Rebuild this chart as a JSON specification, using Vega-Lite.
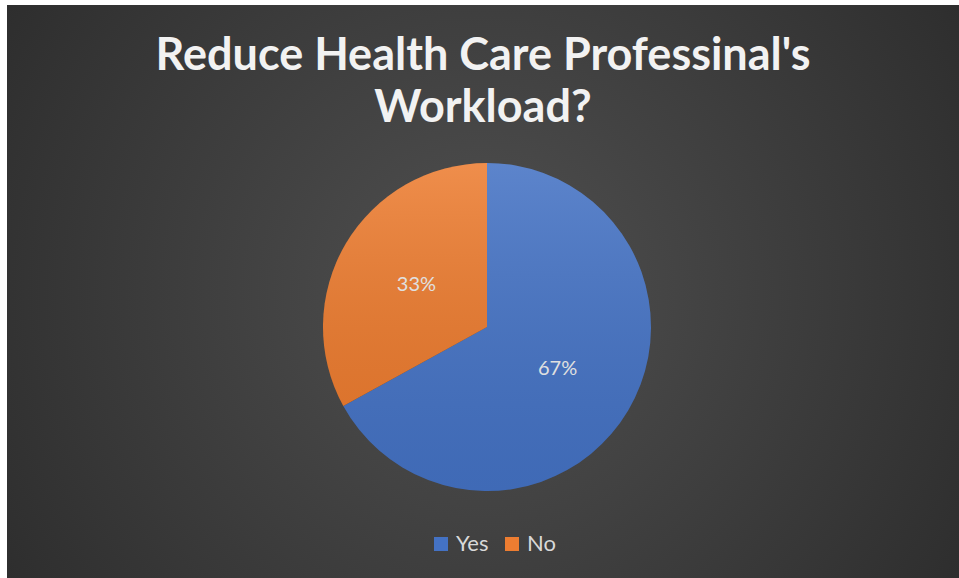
{
  "$schema": "https://vega.github.io/schema/vega-lite/v6.json",
  "autosize": {"type": "none"},
  "width": 952,
  "height": 573,
  "padding": {"left": 7, "top": 5, "right": 0, "bottom": 0},
  "background": "#ffffff",
  "config": {"view": {"stroke": null}},
  "title": {
    "text": ["Reduce Health Care Professinal's", "Workload?"],
    "orient": "top",
    "anchor": "middle",
    "frame": "group",
    "offset": -126,
    "font": "Lato",
    "fontSize": 45,
    "fontWeight": "bold",
    "color": "#f2f2f2",
    "lineHeight": 52
  },
  "layer": [
    {
      "data": {"values": [{}]},
      "mark": {
        "type": "rect",
        "fill": {
          "gradient": "radial",
          "x1": 0.5, "y1": 0.5, "r1": 0,
          "x2": 0.5, "y2": 0.5, "r2": 0.72,
          "stops": [
            {"offset": 0, "color": "#505050"},
            {"offset": 1, "color": "#262626"}
          ]
        }
      },
      "encoding": {
        "x": {"value": 0},
        "x2": {"value": "width"},
        "y": {"value": 0},
        "y2": {"value": "height"}
      }
    },
    {
      "data": {
        "name": "answers",
        "values": [
          {"Answer": "Yes", "Share": 0.67},
          {"Answer": "No", "Share": 0.33}
        ]
      },
      "encoding": {
        "theta": {"field": "Share", "type": "quantitative", "stack": true},
        "order": {"field": "Answer", "sort": "descending"}
      },
      "layer": [
        {
          "mark": {"type": "arc", "outerRadius": 164, "x": 480, "y": 322},
          "encoding": {
            "color": {
              "field": "Answer",
              "type": "nominal",
              "scale": {"domain": ["Yes", "No"], "range": ["#4472c4", "#ed7d31"]},
              "legend": {
                "title": null,
                "orient": "none",
                "direction": "horizontal",
                "legendX": 423,
                "legendY": 528,
                "symbolType": "square",
                "symbolSize": 196,
                "symbolStrokeWidth": 0,
                "labelFont": "Lato",
                "labelFontSize": 22,
                "labelColor": "#d9d9d9",
                "labelOffset": 4,
                "columnPadding": 12
              }
            }
          }
        },
        {
          "mark": {
            "type": "arc",
            "outerRadius": 164,
            "x": 480,
            "y": 322,
            "fill": {
              "gradient": "linear",
              "x1": 0, "y1": 0, "x2": 0, "y2": 1,
              "stops": [
                {"offset": 0, "color": "rgba(255,255,255,0.13)"},
                {"offset": 1, "color": "rgba(0,0,0,0.07)"}
              ]
            }
          }
        },
        {
          "mark": {
            "type": "text",
            "radius": 82,
            "x": 480,
            "y": 322,
            "font": "Lato",
            "fontSize": 20,
            "color": "#e0e0e0"
          },
          "encoding": {
            "text": {"field": "Share", "type": "quantitative", "format": ".0%"}
          }
        }
      ]
    }
  ]
}
